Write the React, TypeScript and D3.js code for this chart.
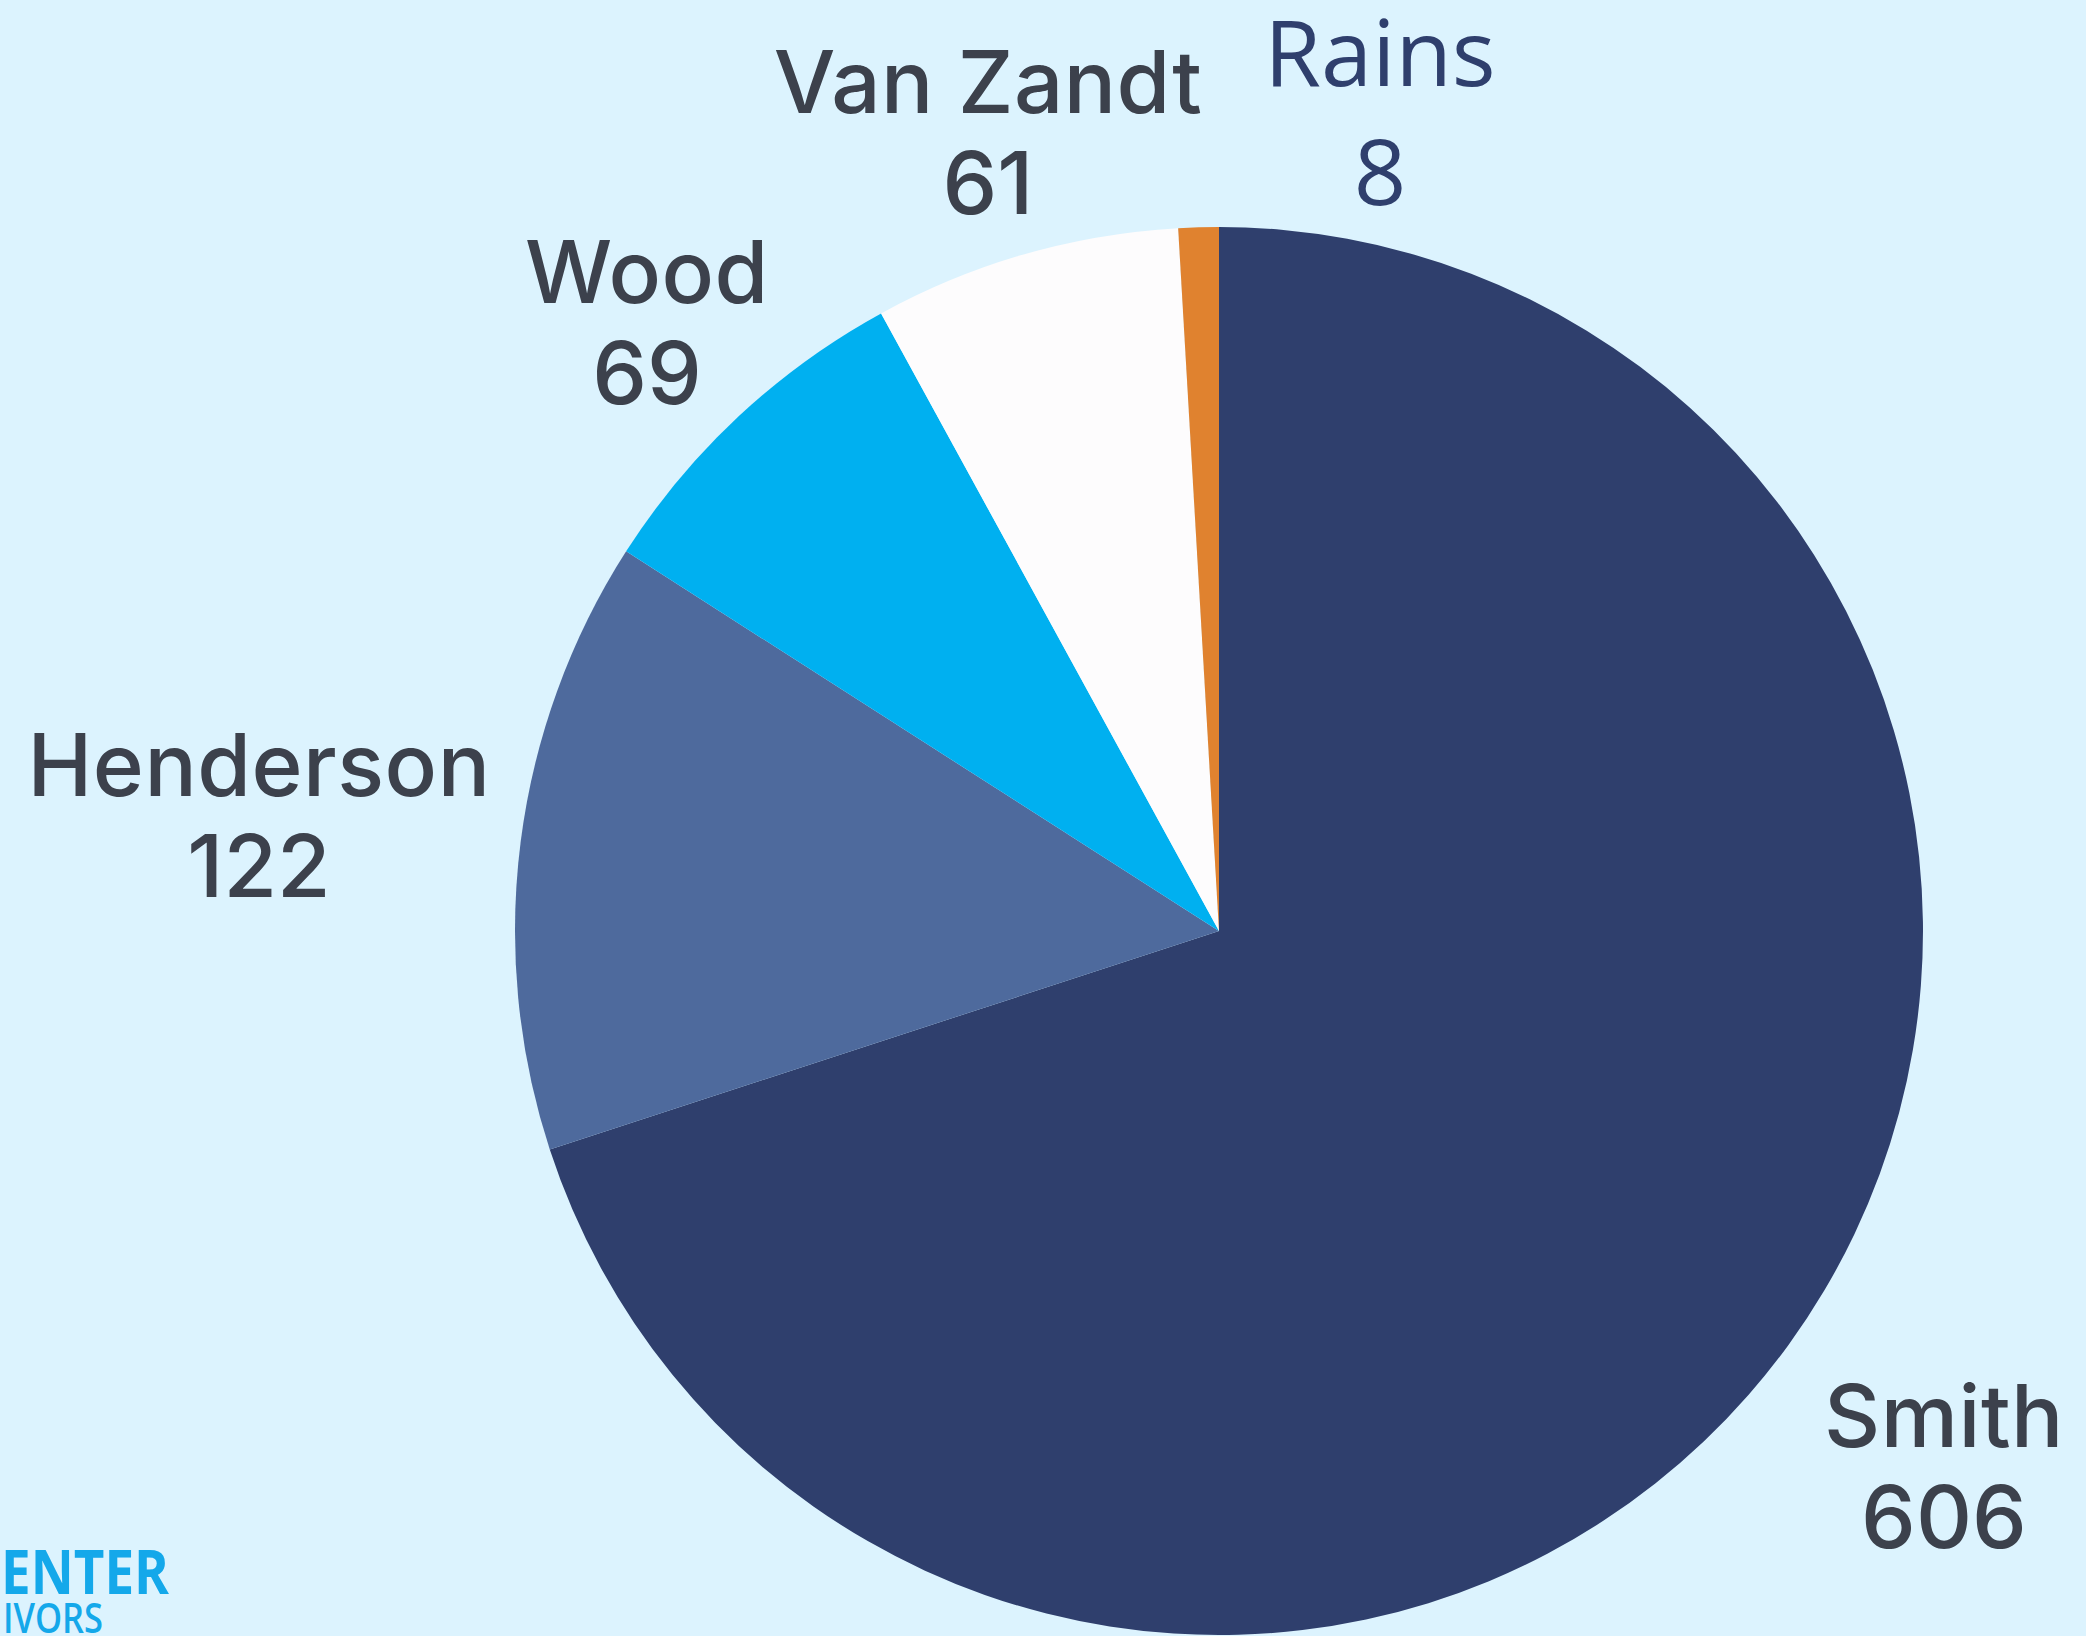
import React from "react";
import * as d3 from "d3";

const categories = ["Smith", "Henderson", "Wood", "Van Zandt", "Rains"];
const values = [606, 122, 69, 61, 8];
const colors = ["#2f3f6d", "#4e6a9d", "#00b0f0", "#fdfcfd", "#e0822f"];
const labelColors = ["#3c414c", "#3c414c", "#3c414c", "#3c414c", "#2f3f6d"];
// label anchor positions (centre x, baseline of name line) in page pixels
const labelPos: [number, number][] = [
  [1944, 1447],
  [259, 796],
  [647, 303],
  [988, 113],
  [1380, 86],
];
const logoTexts = ["ENTER", "IVORS"];

const W = 2086;
const H = 1636;
const cx = 1219;
const cy = 931;
const R = 704;

export default function App() {
  const data = categories.map((c, i) => ({ name: c, value: values[i], i }));
  const pie = d3
    .pie<{ name: string; value: number; i: number }>()
    .value((d) => d.value)
    .sort(null)
    .startAngle(0)
    .endAngle(2 * Math.PI);
  const arcs = pie(data);
  const arc = d3
    .arc<d3.PieArcDatum<{ name: string; value: number; i: number }>>()
    .innerRadius(0)
    .outerRadius(R);

  return (
    <svg
      width={W}
      height={H}
      style={{ position: "absolute", left: 0, top: 0 }}
    >
      <rect x={0} y={0} width={W} height={H} fill="#dcf3fe" />
      <g transform={`translate(${cx},${cy})`}>
        {arcs.map((a) => (
          <path key={a.data.name} d={arc(a) || ""} fill={colors[a.data.i]} />
        ))}
      </g>
      {arcs.map((a) => {
        const [x, y] = labelPos[a.data.i];
        const isRains = a.data.name === "Rains";
        return (
          <g key={"l" + a.data.name}>
            <text
              x={x}
              y={y}
              textAnchor="middle"
              fontFamily={isRains ? "Open Sans" : "Inter"}
              fontSize={isRains ? 92 : 87}
              fontWeight={isRains ? 400 : 500}
              letterSpacing={isRains ? 0 : 0.5}
              fill={labelColors[a.data.i]}
            >
              {a.data.name}
            </text>
            <text
              x={x}
              y={y + (isRains ? 119 : 101)}
              textAnchor="middle"
              fontFamily={isRains ? "Open Sans" : "Inter"}
              fontSize={isRains ? 92 : 87}
              fontWeight={isRains ? 400 : 500}
              fill={labelColors[a.data.i]}
            >
              {a.data.value}
            </text>
          </g>
        );
      })}
      <text
        x={1}
        y={1594}
        textLength={168}
        lengthAdjust="spacingAndGlyphs"
        fontFamily="Open Sans"
        fontWeight={700}
        fontSize={60}
        fill="#14a8ea"
      >
        {logoTexts[0]}
      </text>
      <text
        x={3}
        y={1633}
        textLength={100}
        lengthAdjust="spacingAndGlyphs"
        fontFamily="Open Sans"
        fontWeight={600}
        fontSize={42}
        fill="#14a8ea"
      >
        {logoTexts[1]}
      </text>
    </svg>
  );
}
